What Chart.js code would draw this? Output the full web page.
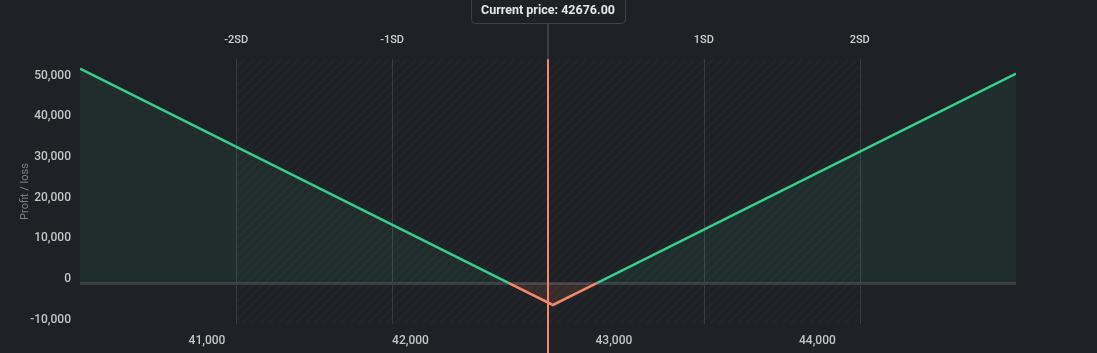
<!DOCTYPE html>
<html>
<head>
<meta charset="utf-8">
<script src="https://cdn.jsdelivr.net/npm/chart.js@4"></script>
<style>
  html,body{margin:0;padding:0;background:#1e2125;}
  #wrap{width:1097px;height:353px;position:relative;}
</style>
</head>
<body>
<div id="wrap"><canvas id="c" width="1097" height="353"></canvas></div>
<script>
// ---- data ----
const prices = [40376, 42484, 42700, 42916, 44976];
const pnl = [52700, 0, -5400, 0, 51500];
const currentPrice = 42676;
const currentPriceLabel = 'Current price: 42676.00';
const sdLabels = ['-2SD', '-1SD', '1SD', '2SD'];
const sdPrices = [41144, 41910, 43442, 44208];
const xTickValues = [41000, 42000, 43000, 44000];
const yTickValues = [-10000, 0, 10000, 20000, 30000, 40000, 50000];
const yTitle = 'Profit / loss';

const GREEN = '#35d08f';
const ORANGE = '#f4876a';
const BG = '#1e2125';
const FONT = 'Roboto';

const points = prices.map((p, i) => ({x: p, y: pnl[i]}));

const overlay = {
  id: 'overlay',
  beforeDatasetsDraw(chart) {
    const {ctx, chartArea: a, scales: {x}} = chart;
    const x1 = x.getPixelForValue(sdPrices[0]);
    const x2 = x.getPixelForValue(sdPrices[sdPrices.length - 1]);
    ctx.save();
    ctx.beginPath();
    ctx.rect(x1, a.top, x2 - x1, a.bottom - a.top);
    ctx.clip();
    ctx.strokeStyle = 'rgba(255,255,255,0.055)';
    ctx.lineWidth = 1;
    const h = a.bottom - a.top;
    for (let sx = x1 - h; sx < x2 + h; sx += 9) {
      ctx.beginPath();
      ctx.moveTo(sx, a.bottom);
      ctx.lineTo(sx + h, a.top);
      ctx.stroke();
    }
    ctx.restore();
    ctx.save();
    ctx.strokeStyle = '#3a3e44';
    ctx.lineWidth = 1;
    sdPrices.forEach(p => {
      const px = Math.round(x.getPixelForValue(p)) + 0.5;
      ctx.beginPath();
      ctx.moveTo(px, a.top);
      ctx.lineTo(px, a.bottom);
      ctx.stroke();
    });
    ctx.restore();
  },
  afterDatasetsDraw(chart) {
    const {ctx, chartArea: a, scales: {x}} = chart;
    ctx.save();
    // SD labels
    ctx.font = '500 11px ' + FONT;
    ctx.fillStyle = '#cfd1d4';
    ctx.textAlign = 'center';
    ctx.textBaseline = 'middle';
    sdPrices.forEach((p, i) => {
      ctx.fillText(sdLabels[i], x.getPixelForValue(p), 40);
    });
    // current price line
    const cx = Math.round(x.getPixelForValue(currentPrice));
    ctx.strokeStyle = '#3a3e44';
    ctx.lineWidth = 2;
    ctx.beginPath();
    ctx.moveTo(cx, 23);
    ctx.lineTo(cx, a.top);
    ctx.stroke();
    ctx.strokeStyle = ORANGE;
    ctx.beginPath();
    ctx.moveTo(cx, a.top);
    ctx.lineTo(cx, chart.height);
    ctx.stroke();
    // label box
    ctx.font = 'bold 12.5px ' + FONT;
    const tw = ctx.measureText(currentPriceLabel).width;
    const bw = tw + 20, bh = 27;
    const bx = cx - bw / 2, by = -4;
    ctx.fillStyle = BG;
    ctx.strokeStyle = '#3d4148';
    ctx.lineWidth = 1;
    ctx.beginPath();
    ctx.roundRect(Math.round(bx) + 0.5, by + 0.5, Math.round(bw), bh, 4);
    ctx.fill();
    ctx.stroke();
    ctx.fillStyle = '#e4e6e8';
    ctx.textAlign = 'center';
    ctx.textBaseline = 'middle';
    ctx.fillText(currentPriceLabel, cx, 11);
    ctx.restore();
  }
};

new Chart(document.getElementById('c'), {
  type: 'line',
  data: {
    datasets: [{
      data: points,
      borderWidth: 2.5,
      borderColor: GREEN,
      segment: {
        borderColor: c => (c.p0.parsed.y < 0 || c.p1.parsed.y < 0) ? ORANGE : GREEN
      },
      pointRadius: 0,
      tension: 0,
      fill: {target: 'origin', above: 'rgba(53,208,143,0.07)', below: 'rgba(244,135,106,0.12)'}
    }]
  },
  options: {
    responsive: false,
    animation: false,
    devicePixelRatio: 1,
    layout: {padding: {top: 59.3, right: 81, left: 0, bottom: 0}},
    plugins: {legend: {display: false}, tooltip: {enabled: false}},
    scales: {
      x: {
        type: 'linear',
        min: prices[0],
        max: prices[prices.length - 1],
        afterBuildTicks: s => { s.ticks = xTickValues.map(v => ({value: v})); },
        afterFit: s => { s.height = 29.3; },
        border: {display: false},
        grid: {display: false, drawTicks: false},
        ticks: {
          color: '#c3c5c8',
          font: {family: FONT, size: 12, weight: '500'},
          padding: 10,
          maxRotation: 0,
          callback: v => v.toLocaleString('en-US')
        }
      },
      y: {
        min: -10000,
        max: 55000,
        afterBuildTicks: s => { s.ticks = yTickValues.map(v => ({value: v})); },
        afterFit: s => { s.width = 80; },
        border: {display: false},
        grid: {
          drawTicks: false,
          color: c => c.tick && c.tick.value === 0 ? '#3a3e44' : 'rgba(0,0,0,0)',
          lineWidth: c => c.tick && c.tick.value === 0 ? 3 : 0
        },
        ticks: {
          color: '#c3c5c8',
          font: {family: FONT, size: 12, weight: '500'},
          padding: 9,
          labelOffset: -4,
          callback: v => v.toLocaleString('en-US')
        },
        title: {
          display: true,
          text: yTitle,
          color: '#7b8087',
          font: {family: FONT, size: 11},
          padding: {top: 19, bottom: 0}
        }
      }
    }
  },
  plugins: [overlay]
});
</script>
</body>
</html>
